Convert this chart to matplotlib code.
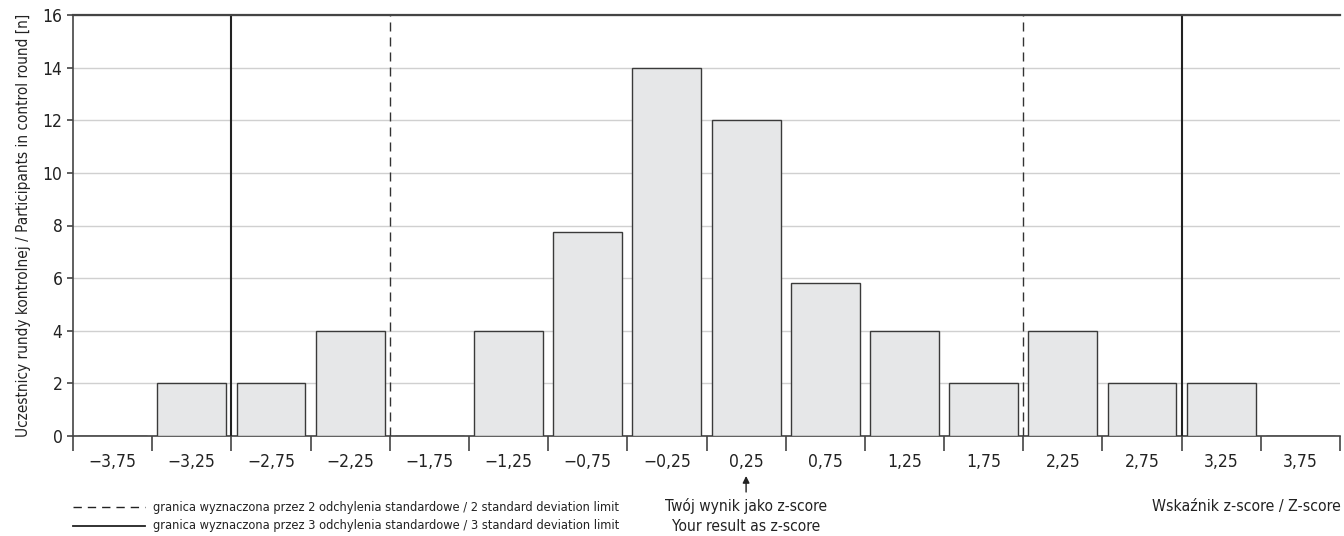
import numpy as np
import matplotlib.pyplot as plt
from matplotlib import font_manager

# look for a narrow / condensed face, the reference uses a condensed grotesque
narrow = None
for f in font_manager.fontManager.ttflist:
    fn = f.fname.replace('-', '').replace('_', '')
    if any(k in fn for k in ['LiberationSansNarrowRegular', 'RobotoCondensedRegular',
                              'DejaVuSansCondensed.ttf']):
        narrow = f
        break
if narrow is not None:
    plt.rcParams['font.family'] = [narrow.name, 'DejaVu Sans']
    plt.rcParams['font.stretch'] = narrow.stretch
else:
    plt.rcParams['font.family'] = ['DejaVu Sans']

# data
z_labels = ['\u22123,75', '\u22123,25', '\u22122,75', '\u22122,25', '\u22121,75', '\u22121,25',
            '\u22120,75', '\u22120,25', '0,25', '0,75', '1,25', '1,75', '2,25', '2,75', '3,25', '3,75']
counts = [0, 2, 2, 4, 0, 4, 7.75, 14, 12, 5.8, 4, 2, 4, 2, 2, 0]
limit_2sd = [-2, 2]
limit_3sd = [-3, 3]
your_result = 0.25

x = np.arange(len(z_labels))

def z_to_x(z):
    # category centres at -3.75 ... 3.75, step 0.5
    return (z + 3.75) / 0.5

fig = plt.figure(figsize=(13.44, 5.36), dpi=100)
ax = fig.add_axes([73/1344, 1 - 436/536, (1340-73)/1344, (436-15)/536])

spine_c = '#444444'
ax.bar(x, counts, width=0.87, color='#e6e7e8', edgecolor='#3a3a3a', linewidth=1.0, zorder=3)

for z in limit_2sd:
    ax.axvline(z_to_x(z), color='#333333', lw=1.0, ls=(0, (6.5, 4.3)), zorder=4)
for z in limit_3sd:
    ax.axvline(z_to_x(z), color='#222222', lw=1.5, zorder=4)

ax.set_xlim(-0.5, len(z_labels) - 0.5)
ax.set_ylim(0, 16)
ax.set_yticks(np.arange(0, 17, 2))
ax.yaxis.grid(True, color='#d0d0d0', lw=1.0, zorder=0)
ax.axhline(16, color=spine_c, lw=1.6, zorder=5, clip_on=False)

ax.set_xticks(np.arange(-0.5, len(z_labels), 1.0))
ax.set_xticklabels([])
ax.set_xticks(x, minor=True)
ax.set_xticklabels(z_labels, minor=True)
ax.tick_params(axis='x', which='major', length=11, width=1.2, color=spine_c, direction='out')
ax.tick_params(axis='x', which='minor', length=0, labelsize=12.5, pad=12, labelcolor='#222222')
ax.tick_params(axis='y', length=4, width=1.2, color=spine_c, labelsize=12.5, labelcolor='#222222')

for s in ['top', 'right']:
    ax.spines[s].set_visible(False)
for s in ['left', 'bottom']:
    ax.spines[s].set_color(spine_c)
    ax.spines[s].set_linewidth(1.2)

ax.set_ylabel('Uczestnicy rundy kontrolnej / Participants in control round [n]',
              fontsize=11, color='#222222', labelpad=8)

# legend for limit lines
fig.add_artist(plt.Line2D([73/1344, 145/1344], [1 - 507/536, 1 - 507/536],
                          color='#222222', lw=1.0, ls=(0, (6, 4.3))))
fig.add_artist(plt.Line2D([73/1344, 145/1344], [1 - 526/536, 1 - 526/536],
                          color='#222222', lw=1.3))
fig.text(153/1344, 1 - 507/536, 'granica wyznaczona przez 2 odchylenia standardowe / 2 standard deviation limit',
         fontsize=9.15, va='center', color='#222222')
fig.text(153/1344, 1 - 526/536, 'granica wyznaczona przez 3 odchylenia standardowe / 3 standard deviation limit',
         fontsize=9.15, va='center', color='#222222')

# your result marker
xr = z_to_x(your_result)
ax.annotate('', xy=(xr, 1 - 476/536), xycoords=('data', 'figure fraction'),
            xytext=(xr, 1 - 492/536), textcoords=('data', 'figure fraction'),
            arrowprops=dict(arrowstyle='-|>', color='#222222', lw=1.0, mutation_scale=10,
                            shrinkA=0, shrinkB=0))
ax.annotate('Twój wynik jako z-score\nYour result as z-score',
            xy=(xr, 1 - 516/536), xycoords=('data', 'figure fraction'),
            ha='center', va='center', fontsize=11.2, color='#222222', linespacing=1.45)

fig.text(1341/1344, 1 - 506/536, 'Wskaźnik z-score / Z-score', fontsize=11.3,
         ha='right', va='center', color='#222222')

fig.savefig('out.png', dpi=100)
